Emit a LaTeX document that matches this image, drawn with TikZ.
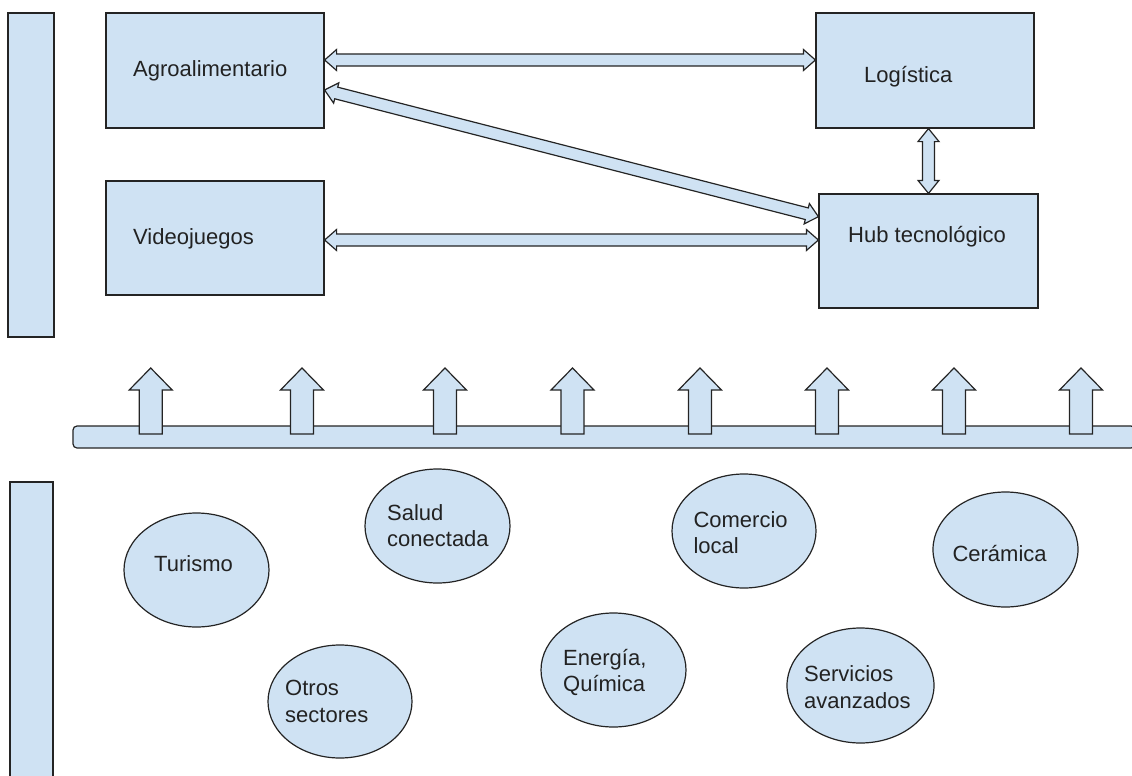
\documentclass[tikz,border=0pt]{standalone}
\usepackage{fontspec}
\setmainfont{Liberation Sans}
\usetikzlibrary{calc,shapes.geometric}
\definecolor{boxfill}{HTML}{CFE2F3}
\definecolor{edgec}{HTML}{242424}
\definecolor{ink}{HTML}{222222}
\newcommand\twoline[2]{\begin{tabular}[t]{@{}l@{}}#1\\#2\end{tabular}}
% block double arrow: from, to, shaft half width, head half width, head length
\newcommand\dblarrow[5]{%
  \path ($(#1)!#5!(#2)$) coordinate (da1) ($(#2)!#5!(#1)$) coordinate (db1);
  \draw[arrowbox] (#1) -- ($(da1)!#4!90:(#2)$) -- ($(da1)!#3!90:(#2)$)
    -- ($(db1)!#3!-90:(#1)$) -- ($(db1)!#4!-90:(#1)$) -- (#2)
    -- ($(db1)!#4!90:(#1)$) -- ($(db1)!#3!90:(#1)$)
    -- ($(da1)!#3!-90:(#2)$) -- ($(da1)!#4!-90:(#2)$) -- cycle;}
% block single arrow: base, tip
\newcommand\uparrowshape[2]{%
  \path ($(#2)!22pt!(#1)$) coordinate (ua1);
  \draw[arrowbox] (#2) -- ($(ua1)!21.5pt!-90:(#1)$) -- ($(ua1)!11.5pt!-90:(#1)$)
    -- ($(#1)!11.5pt!90:(#2)$) -- ($(#1)!11.5pt!-90:(#2)$)
    -- ($(ua1)!11.5pt!90:(#1)$) -- ($(ua1)!21.5pt!90:(#1)$) -- cycle;}
\tikzset{
  shapebase/.style={draw=edgec, fill=boxfill, line width=1.2pt},
  box/.style={shapebase, rectangle, inner sep=0pt},
  oval/.style={shapebase, ellipse, inner sep=0pt, minimum width=145pt, minimum height=114pt},
  arrowbox/.style={shapebase, line join=miter},
  label/.style={text=ink, inner sep=0pt, anchor=base west, font=\fontsize{22pt}{26.5pt}\selectfont},
}
\begin{document}
\begin{tikzpicture}[x=1pt,y=-1pt]
\useasboundingbox (0,0) rectangle (1132,776);
\clip (0,0) rectangle (1132,776);
% side bars
\node[box, minimum width=46pt, minimum height=324pt] (sidetop) at (31,175) {};
\node[box, minimum width=43pt, minimum height=308pt] (sidebot) at (31.5,636) {};
% boxes
\node[box, minimum width=218pt, minimum height=115pt] (agro) at (215,70.5) {};
\node[box, minimum width=218pt, minimum height=114pt] (video) at (215,238) {};
\node[box, minimum width=218pt, minimum height=115pt] (logi) at (925,70.5) {};
\node[box, minimum width=219pt, minimum height=114pt] (hub) at (928.5,251) {};
\node[label] (tagro) at (133,77) {Agroalimentario};
\node[label] (tvideo) at (133,244) {Videojuegos};
\node[label] (tlogi) at (864,82.5) {Logística};
\node[label] (thub) at (848,242.5) {Hub tecnológico};
% connectors between boxes
\coordinate (a1) at ([yshift=10.5pt]agro.east);
\coordinate (l1) at ([yshift=10.5pt]logi.west);
\dblarrow{a1}{l1}{6pt}{10.5pt}{12pt}
\coordinate (a2) at ([yshift=-19.5pt]agro.east);
\coordinate (h2) at ([yshift=34.3pt]hub.west);
\dblarrow{a2}{h2}{6pt}{10.5pt}{12pt}
\coordinate (v3) at ([yshift=-2pt]video.east);
\coordinate (h3) at ([yshift=11pt]hub.west);
\dblarrow{v3}{h3}{6pt}{10.5pt}{12pt}
\coordinate (l4) at (logi.south -| hub.north);
\dblarrow{l4}{hub.north}{6pt}{10.5pt}{13pt}
% base bar
\node[box, rounded corners=4pt, minimum width=1062pt, minimum height=22pt] (bar) at (604,437) {};
\foreach \i/\x in {1/150.7,2/302,3/445,4/572.5,5/700,6/827,7/954,8/1081}{
  \coordinate (ub\i) at (\x,434);
  \coordinate (ut\i) at (\x,368);
  \uparrowshape{ub\i}{ut\i}
}
% sector ellipses
\node[oval] (turismo) at (196.5,570) {};
\node[oval, minimum width=144pt, minimum height=113pt] (otros) at (340,701.5) {};
\node[oval] (salud) at (437.5,526) {};
\node[oval] (energia) at (613.5,670) {};
\node[oval, minimum width=144pt] (comercio) at (744,531) {};
\node[oval, minimum height=115pt] (ceramica) at (1005.5,549.5) {};
\node[oval, minimum width=147pt, minimum height=115pt] (servicios) at (860.5,685.5) {};
\node[label] (tturismo) at (154,571.7) {Turismo};
\node[label] (totros) at (285,695.5) {\twoline{Otros}{sectores}};
\node[label] (tsalud) at (387,520) {\twoline{Salud}{conectada}};
\node[label] (tenergia) at (563,665) {\twoline{Energía,}{Química}};
\node[label] (tcomercio) at (693.3,527.3) {\twoline{Comercio}{local}};
\node[label] (tceramica) at (952.3,561) {Cerámica};
\node[label] (tservicios) at (804,681.7) {\twoline{Servicios}{avanzados}};
\end{tikzpicture}
\end{document}
